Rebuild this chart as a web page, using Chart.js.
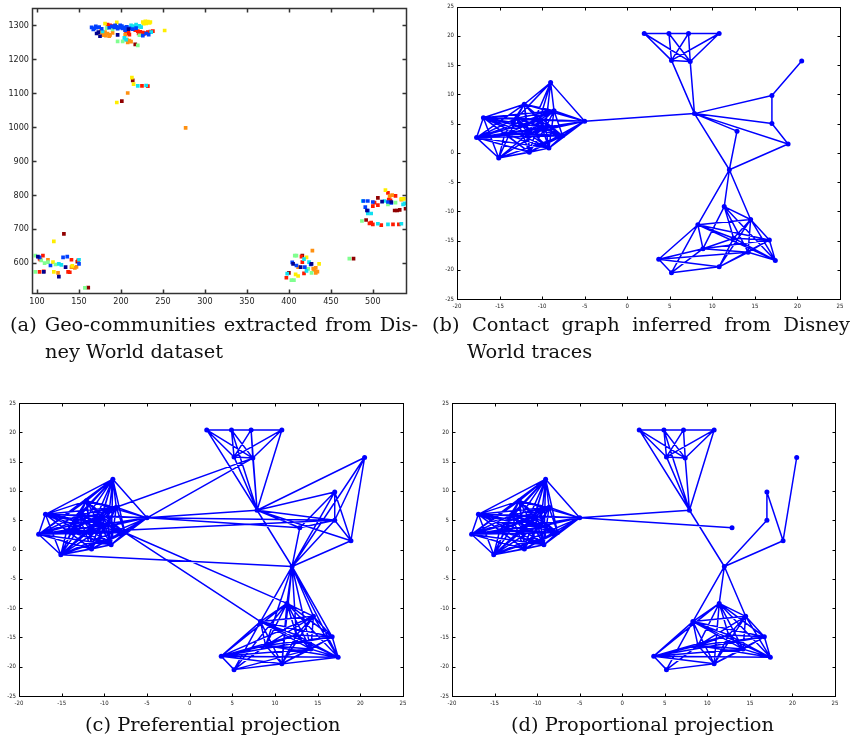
<!DOCTYPE html>
<html><head><meta charset="utf-8">
<script src="https://cdn.jsdelivr.net/npm/chart.js@4.4.0/dist/chart.umd.min.js"></script>
<style>
html,body{margin:0;padding:0;background:#fff}
body{width:851px;height:740px;overflow:hidden;position:relative}
canvas{position:absolute}
.cap{position:absolute;font-family:'DejaVu Serif',serif;font-size:19.4px;line-height:19.4px;color:#111;white-space:nowrap}
</style></head>
<body>
<canvas id="ca" width="420" height="315" style="left:0;top:0"></canvas>
<canvas id="cb" width="431" height="315" style="left:420px;top:0"></canvas>
<canvas id="cc" width="420" height="320" style="left:0;top:395px"></canvas>
<canvas id="cd" width="431" height="320" style="left:420px;top:395px"></canvas>
<div class="cap" id="capA1" style="left:10px;top:315px" data-w="408">(a) Geo-communities extracted from Dis-</div>
<div class="cap" id="capA2" style="left:45px;top:342px">ney World dataset</div>
<div class="cap" id="capB1" style="left:432px;top:315px" data-w="418">(b) Contact graph inferred from Disney</div>
<div class="cap" id="capB2" style="left:467px;top:342px">World traces</div>
<div class="cap" id="capC" style="left:85px;top:715px">(c) Preferential projection</div>
<div class="cap" id="capD" style="left:511px;top:715px">(d) Proportional projection</div>
<script>
// ---------- Panel (a): geo-communities (x, y pairs per colour group) ----------
const aXTicks = [100,150,200,250,300,350,400,450,500];
const aYTicks = [600,700,800,900,1000,1100,1200,1300];
const ptsDarkBlue = [[173,1280],[175,1268],[171,1276],[196,1272],[209,1289],[108,574],[126,560],[134,588],[101,619],[405,598],[414,588],[427,598],[493,755],[522,780],[511,781]];
const ptsBlue = [[165,1294],[168,1291],[171,1293],[174,1295],[177,1290],[167,1288],[170,1297],[189,1297],[192,1294],[195,1296],[198,1293],[201,1298],[204,1294],[207,1296],[210,1291],[186,1293],[193,1300],[199,1300],[196,1290],[202,1291],[205,1286],[230,1276],[233,1273],[226,1270],[214,1289],[218,1292],[116,593],[131,617],[136,619],[150,598],[103,617],[409,593],[419,588],[426,596],[404,602],[489,783],[494,783],[500,780],[491,765],[494,755],[518,780],[522,777]];
const ptsCyan = [[212,1300],[216,1298],[220,1296],[224,1295],[218,1302],[214,1294],[222,1299],[204,1263],[206,1258],[178,1282],[236,1280],[220,1122],[230,1123],[129,595],[126,598],[150,610],[398,569],[424,603],[421,577],[418,612],[514,783],[536,773],[538,776],[494,746],[498,746],[506,716],[518,714],[534,716],[488,783]];
const ptsGreen = [[183,1292],[196,1253],[202,1253],[190,1288],[222,1271],[220,1241],[98,622],[105,608],[109,600],[122,596],[98,574],[157,527],[113,603],[407,622],[409,622],[403,550],[406,550],[427,571],[423,583],[472,613],[487,724],[518,773],[527,778]];
const ptsYellow = [[226,1310],[229,1312],[232,1311],[235,1310],[230,1306],[227,1305],[234,1307],[181,1305],[195,1309],[252,1285],[213,1146],[215,1127],[195,1073],[120,664],[119,603],[120,574],[142,592],[408,567],[421,617],[436,598],[411,562],[515,815],[534,789],[537,789]];
const ptsOrange = [[175,1278],[178,1275],[181,1280],[184,1276],[187,1272],[190,1278],[179,1271],[186,1268],[176,1283],[182,1270],[207,1258],[210,1255],[212,1252],[208,1250],[205,1273],[208,1101],[277,998],[141,588],[145,586],[147,589],[125,571],[113,610],[411,588],[428,637],[429,584],[432,586],[432,571],[434,575],[430,580],[520,797],[523,800],[534,787]];
const ptsRed = [[184,1302],[187,1300],[190,1298],[193,1299],[205,1287],[207,1282],[209,1278],[210,1273],[206,1276],[217,1286],[220,1283],[223,1281],[226,1279],[229,1277],[232,1280],[235,1282],[238,1283],[221,1276],[227,1274],[225,1122],[232,1121],[103,613],[104,610],[107,622],[141,610],[149,608],[137,574],[139,573],[103,574],[108,576],[397,557],[415,619],[416,603],[418,570],[518,807],[519,787],[521,785],[502,778],[500,768],[506,771],[496,717],[498,719],[500,714],[510,712],[524,714],[531,714],[527,798]];
const ptsDarkRed = [[217,1244],[214,1138],[201,1077],[132,686],[161,528],[148,604],[400,571],[477,613],[416,622],[506,792],[526,755],[529,755],[532,757],[539,760],[492,727]];

// ---------- Panels (b)-(d): graph nodes and edges ----------
const gXTicks = [-20,-15,-10,-5,0,5,10,15,20,25];
const gYTicks = [-25,-20,-15,-10,-5,0,5,10,15,20,25];
const nodeX = [2.0,4.9,7.2,10.8,5.2,7.4,7.9,-5.0,-9.0,-12.1,-8.6,-16.9,-17.7,-15.1,-11.5,-9.2,-7.6,-14.4,-11.6,-10.3,-13.0,-9.6,12.9,17.0,17.0,18.9,20.5,12.0,11.4,14.5,8.3,12.5,16.7,8.9,14.2,17.4,3.7,5.2,10.8];
const nodeY = [20.4,20.4,20.4,20.4,15.8,15.6,6.7,5.4,12.0,8.3,7.2,6.0,2.6,-0.9,0.1,0.8,2.9,3.2,3.3,5.6,5.9,4.3,3.7,9.8,5.0,1.5,15.7,-2.9,-9.2,-11.4,-12.3,-14.6,-14.9,-16.4,-17.0,-18.4,-18.2,-20.5,-19.5];

const edgesTop = [[0,1],[1,2],[2,3],[0,4],[0,5],[1,4],[1,5],[2,4],[2,5],[3,4],[3,5],[4,5]];
const edgesLeftB = [[7,9],[7,10],[7,11],[7,12],[7,14],[7,15],[7,16],[7,17],[7,18],[7,19],[7,20],[7,21],
 [8,7],[8,9],[8,10],[8,18],[8,19],[8,20],[8,21],
 [9,10],[9,11],[9,12],[9,14],[9,16],[9,17],[9,18],[9,19],[9,20],[9,21],
 [10,11],[10,12],[10,15],[10,16],[10,17],[10,18],[10,19],[10,20],[10,21],
 [11,12],[11,13],[11,14],[11,15],[11,16],[11,17],[11,18],[11,19],[11,20],[11,21],
 [12,13],[12,14],[12,15],[12,16],[12,17],[12,18],[12,19],[12,20],[12,21],
 [13,14],[13,15],[13,16],[13,17],[13,18],[13,20],[13,21],
 [14,15],[14,16],[14,17],[14,18],[14,19],[14,20],[14,21],
 [15,16],[15,17],[15,18],[15,19],[15,20],[15,21],
 [16,17],[16,18],[16,19],[16,20],[16,21],
 [17,18],[17,19],[17,20],[17,21],[18,19],[18,20],[18,21],[19,20],[19,21],[20,21]];
const edgesLeftExtra = [[7,13],[8,11],[8,12],[8,13],[8,14],[8,15],[8,16],[8,17],[9,13],[9,15],[10,13],[10,14],[13,19]];
const edgesBottomB = [[30,29],[30,32],[30,35],[30,36],[30,37],[30,33],[30,31],[28,31],[28,34],[28,33],[28,29],[28,35],[29,31],[29,34],[29,32],[29,38],[29,35],[31,32],[31,35],[31,33],[31,38],[33,32],[33,34],[33,37],[36,34],[36,38],[36,37],[37,38],[38,32],[38,34],[34,35],[34,32],[32,35],[36,33]];
const edgesMidB = [[4,6],[5,6],[6,7],[6,23],[6,24],[6,22],[6,25],[6,27],[23,24],[23,26],[24,25],[22,27],[25,27],[27,28],[27,29],[27,30]];

const edgesTopC = [[0,6],[1,6],[2,6],[3,6],[4,6],[5,6]];
const edgesMidC = [[6,7],[6,22],[6,23],[6,24],[6,25],[6,26],[6,27],[27,22],[27,23],[27,24],[27,25],[27,26],[22,23],[22,24],[23,24],[23,25],[24,25],[26,24],[26,25],[13,27],[7,5],[10,5],[7,24],[12,24],[7,22],[16,30],[16,28]];
const edgesBottomC = [[28,30],[28,32],[28,36],[28,38],[29,33],[29,36],[30,34],[30,38],[31,34],[31,36],[32,36],[33,35],[33,38],[35,36],[37,35],[37,34],[28,37],[27,28],[27,29],[27,30],[27,31],[27,32],[27,33],[27,34],[27,35],[27,38]];

const edgesTopD = [[0,6],[1,6],[3,6],[4,6],[5,6]];
const edgesMidD = [[6,7],[7,22],[6,27],[23,24],[23,25],[24,27],[25,27],[26,25]];
const edgesBottomD = [[28,30],[28,32],[28,38],[29,33],[30,34],[30,38],[31,34],[31,36],[32,36],[33,35],[33,38],[35,36],[28,36],[27,28],[27,30],[27,29]];

// ---------- helpers ----------
const framePlugin = {
  id: 'frame',
  afterDatasetsDraw(chart, args, opts) {
    const {ctx, chartArea: a, scales} = chart;
    const x = scales.x, y = scales.y;
    ctx.save();
    ctx.strokeStyle = opts.color;
    ctx.lineWidth = opts.width;
    const L = Math.round(a.left) + 0.5, R = Math.round(a.right) + 0.5;
    const T = Math.round(a.top) + 0.5, B = Math.round(a.bottom) + 0.5;
    ctx.strokeRect(L, T, R - L, B - T);
    const t = opts.tick;
    ctx.beginPath();
    x.ticks.forEach(tk => {
      const p = Math.round(x.getPixelForValue(tk.value)) + 0.5;
      ctx.moveTo(p, B); ctx.lineTo(p, B - t);
      ctx.moveTo(p, T); ctx.lineTo(p, T + t);
    });
    y.ticks.forEach(tk => {
      const p = Math.round(y.getPixelForValue(tk.value)) + 0.5;
      ctx.moveTo(L, p); ctx.lineTo(L + t, p);
      ctx.moveTo(R, p); ctx.lineTo(R - t, p);
    });
    ctx.stroke();
    ctx.restore();
  }
};
Chart.register(framePlugin);

function axis(min, max, tickVals, fitKey, fitVal, font, pad, color) {
  return {
    type: 'linear', min, max,
    afterBuildTicks: s => { s.ticks = tickVals.map(v => ({value: v})); },
    afterFit: s => { s[fitKey] = fitVal; },
    grid: {display: false, drawTicks: false, tickLength: 0}, border: {display: false},
    ticks: {font, color, padding: pad, autoSkip: false, maxRotation: 0, callback: v => String(v)}
  };
}

function baseOptions(pad, xAx, yAx, frame) {
  return {
    responsive: false, animation: false, devicePixelRatio: 1,
    layout: {padding: pad},
    plugins: {legend: {display: false}, tooltip: {enabled: false}, frame},
    scales: {x: xAx, y: yAx}
  };
}

const narrow = "'Liberation Sans Narrow', 'DejaVu Sans Condensed', 'Liberation Sans', sans-serif";

// ---------- chart (a) ----------
const toXY = arr => arr.map(p => ({x: p[0], y: p[1]}));
const groupsA = [
  [ptsDarkBlue, '#00008f'], [ptsBlue, '#0040ff'], [ptsCyan, '#10e0f0'], [ptsGreen, '#80ff90'],
  [ptsYellow, '#ffee00'], [ptsOrange, '#ff9010'], [ptsRed, '#ff1a00'], [ptsDarkRed, '#900000']
];
const fontA = {family: narrow, size: 9};
new Chart(document.getElementById('ca'), {
  type: 'scatter',
  data: {datasets: groupsA.map(([pts, col]) => ({
    data: toXY(pts), pointStyle: 'rect', pointRadius: 2.6, borderWidth: 0,
    backgroundColor: col, borderColor: col
  }))},
  options: baseOptions({left: 0, top: 5, right: 14, bottom: 0},
    axis(94, 539.5, aXTicks, 'height', 22, fontA, 3, '#222'),
    axis(512, 1350, aYTicks, 'width', 32, fontA, 3, '#222'),
    {color: '#333', width: 1.5, tick: 4})
});

// ---------- graph charts ----------
function edgeData(lists) {
  const d = [];
  lists.forEach(list => list.forEach(([i, j]) => {
    d.push({x: nodeX[i], y: nodeY[i]}, {x: nodeX[j], y: nodeY[j]}, {x: NaN, y: NaN});
  }));
  return d;
}
const nodePts = nodeX.map((v, i) => ({x: v, y: nodeY[i]}));
const fontG = {family: narrow, size: 6};
function graph(id, lists, pad, yW, xH) {
  new Chart(document.getElementById(id), {
    type: 'scatter',
    data: {datasets: [
      {data: edgeData(lists), showLine: true, spanGaps: false, borderColor: '#0000ff', borderWidth: 1.5, pointRadius: 0},
      {data: nodePts, pointRadius: 2.5, backgroundColor: '#0000ff', borderColor: '#0000ff', borderWidth: 0}
    ]},
    options: baseOptions(pad,
      axis(-20, 25, gXTicks, 'height', xH, fontG, 4, '#222'),
      axis(-25, 25, gYTicks, 'width', yW, fontG, 3, '#222'),
      {color: '#000', width: 1, tick: 3})
  });
}
graph('cb', [edgesTop, edgesLeftB, edgesBottomB, edgesMidB], {left: 0, top: 6, right: 11, bottom: 0}, 37, 16);
graph('cc', [edgesTop, edgesTopC, edgesLeftB, edgesLeftExtra, edgesBottomB, edgesBottomC, edgesMidC], {left: 0, top: 8, right: 17, bottom: 0}, 19, 19);
graph('cd', [edgesTop, edgesTopD, edgesLeftB, edgesLeftExtra, edgesBottomB, edgesBottomD, edgesMidD], {left: 0, top: 8, right: 16, bottom: 0}, 32, 19);

// justify the first caption lines like the typeset original
['capA1', 'capB1'].forEach(id => {
  const el = document.getElementById(id);
  const target = +el.dataset.w;
  const w = el.getBoundingClientRect().width;
  const spaces = (el.textContent.match(/ /g) || []).length;
  el.style.wordSpacing = ((target - w) / spaces) + 'px';
});
</script>
</body></html>
